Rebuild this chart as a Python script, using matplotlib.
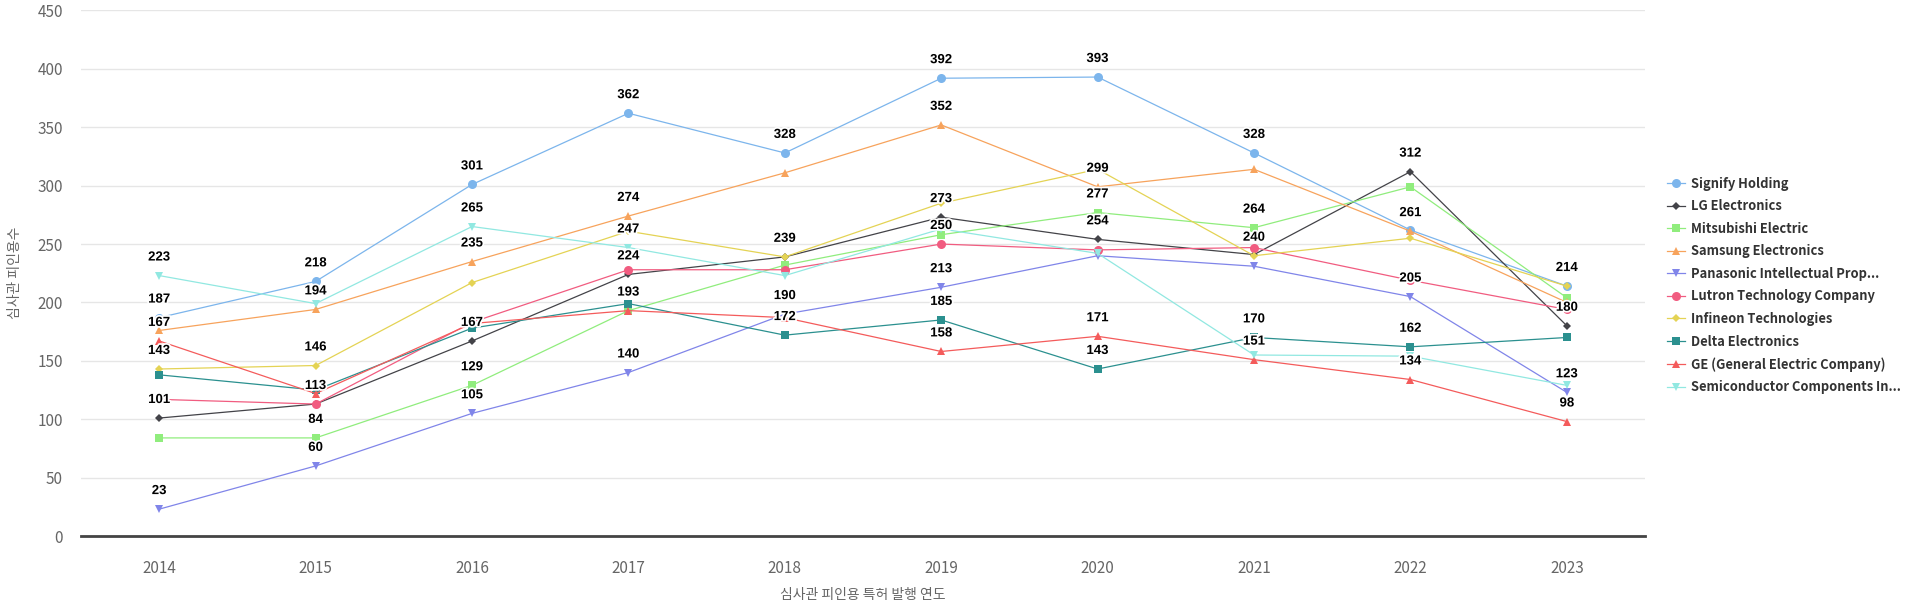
import matplotlib
matplotlib.use("Agg")
import matplotlib.pyplot as plt
import matplotlib.patheffects as pe
import numpy as np

plt.rcParams["font.family"] = ["Noto Sans CJK KR", "DejaVu Sans"]

years = ["2014", "2015", "2016", "2017", "2018", "2019", "2020", "2021", "2022", "2023"]

names = [
    "Signify Holding",
    "LG Electronics",
    "Mitsubishi Electric",
    "Samsung Electronics",
    "Panasonic Intellectual Prop...",
    "Lutron Technology Company",
    "Infineon Technologies",
    "Delta Electronics",
    "GE (General Electric Company)",
    "Semiconductor Components In...",
]

signify = [187, 218, 301, 362, 328, 392, 393, 328, 262, 214]
lg = [101, 113, 167, 224, 239, 273, 254, 241, 312, 180]
mitsubishi = [84, 84, 129, 193, 232, 258, 277, 264, 299, 204]
samsung = [176, 194, 235, 274, 311, 352, 299, 314, 261, 200]
panasonic = [23, 60, 105, 140, 190, 213, 240, 231, 205, 123]
lutron = [117, 113, 183, 228, 228, 250, 245, 247, 219, 194]
infineon = [143, 146, 217, 261, 239, 285, 314, 240, 255, 214]
delta = [138, 125, 178, 199, 172, 185, 143, 170, 162, 170]
ge = [167, 122, 182, 193, 187, 158, 171, 151, 134, 98]
semi = [223, 199, 265, 247, 223, 263, 242, 155, 154, 129]

# which points carry a visible value label (others were hidden by overlap)
signify_lbl = [0, 1, 2, 3, 4, 5, 6, 7, 9]
lg_lbl = [0, 1, 2, 3, 5, 6, 8, 9]
mitsubishi_lbl = [1, 2, 6, 7]
samsung_lbl = [1, 2, 3, 5, 6, 8]
panasonic_lbl = [0, 1, 2, 3, 4, 5, 8, 9]
lutron_lbl = [5]
infineon_lbl = [0, 1, 4, 7]
delta_lbl = [4, 5, 6, 7, 8]
ge_lbl = [0, 3, 5, 6, 7, 8, 9]
semi_lbl = [0, 2, 3]

series = [signify, lg, mitsubishi, samsung, panasonic, lutron, infineon, delta, ge, semi]
labels_on = [signify_lbl, lg_lbl, mitsubishi_lbl, samsung_lbl, panasonic_lbl,
             lutron_lbl, infineon_lbl, delta_lbl, ge_lbl, semi_lbl]

colors = ["#7cb5ec", "#434348", "#90ed7d", "#f7a35c", "#8085e9",
          "#f15c80", "#e4d354", "#2b908f", "#f45b5b", "#91e8e1"]
markers = ["o", "D", "s", "^", "v", "o", "D", "s", "^", "v"]
msizes = [6.5, 4.5, 6, 6, 6, 6.5, 4.5, 6, 6, 6]

fig = plt.figure(figsize=(19.2, 6.03), dpi=100)
ax = fig.add_axes([0.0422, 0.1111, 0.8146, 0.8715])

x = np.arange(len(years))
for vals, name, c, m, ms in zip(series, names, colors, markers, msizes):
    ax.plot(x, vals, color=c, lw=0.9, marker=m, markersize=ms,
            markeredgewidth=0, label=name, zorder=3)

# value labels
for vals, idx in zip(series, labels_on):
    for i in idx:
        ax.annotate(str(vals[i]), (x[i], vals[i]), xytext=(0, 13),
                    textcoords="offset points", ha="center", va="center",
                    fontsize=9.5, fontweight="bold", color="black",
                    family=["Liberation Sans", "DejaVu Sans"], zorder=5,
                    path_effects=[pe.withStroke(linewidth=2.5, foreground="white")])

ax.set_xlim(-0.5, len(years) - 0.5)
ax.set_ylim(0, 450)
ax.set_yticks(np.arange(0, 451, 50))
ax.set_xticks(x)
ax.set_xticklabels(years)

ax.grid(axis="y", color="#e6e6e6", lw=1)
ax.set_axisbelow(True)
for s in ["top", "right", "left"]:
    ax.spines[s].set_visible(False)
ax.spines["bottom"].set_color("#444444")
ax.spines["bottom"].set_linewidth(2)

ax.tick_params(axis="both", length=0, colors="#666666", labelsize=11)
ax.tick_params(axis="y", pad=13)
ax.tick_params(axis="x", pad=17)

ax.set_ylabel("심사관 피인용수", color="#666666", fontsize=10, labelpad=11)
ax.set_xlabel("심사관 피인용 특허 발행 연도", color="#666666", fontsize=10, labelpad=8)

leg = ax.legend(loc="center left", bbox_to_anchor=(0.862, 0.5265),
                bbox_transform=fig.transFigure, frameon=False,
                fontsize=9.3, handlelength=1.4, handletextpad=0.45,
                labelspacing=0.66)
for t in leg.get_texts():
    t.set_color("#333333")
    t.set_fontweight("bold")

fig.savefig("out.png", dpi=100)
